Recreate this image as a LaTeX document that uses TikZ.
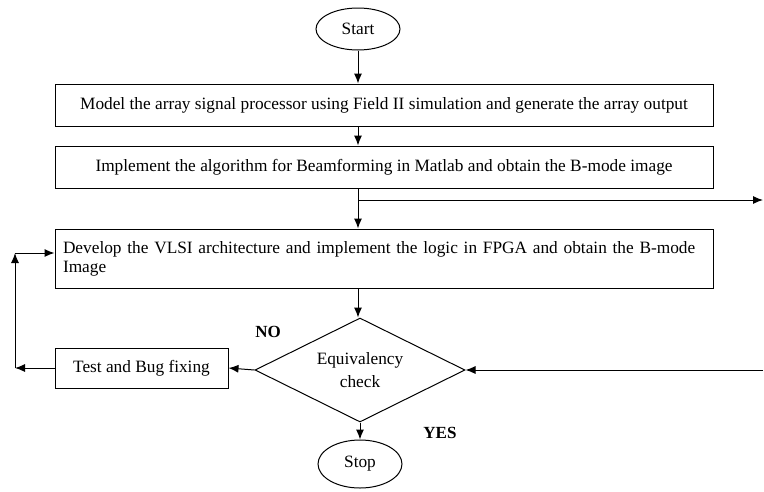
\documentclass[tikz,border=0pt]{standalone}
\usepackage{fontspec}
\setmainfont{Liberation Serif}
\usetikzlibrary{arrows.meta,positioning,shapes.geometric}
\begin{document}
\begin{tikzpicture}[
    x=1pt,y=-1pt,
    line width=1pt,
    >={Latex[length=10pt,width=8pt]},
    box/.style={draw,minimum width=658pt,minimum height=42pt,inner sep=0pt,font=\fontsize{17.3}{19}\selectfont},
    terminal/.style={ellipse,draw,minimum width=84pt,minimum height=42pt,inner sep=0pt,font=\fontsize{17.3}{19}\selectfont},
    decision/.style={diamond,draw,aspect=2,minimum width=210pt,minimum height=104pt,inner sep=0pt,align=center,font=\fontsize{17.3}{23}\selectfont},
    lbl/.style={font=\bfseries\fontsize{17}{19}\selectfont}
]
\useasboundingbox (0,0) rectangle (764,491);
\node[terminal] (start) at (358,29) {Start};
\node[box] (model) at (384,105) {Model the array signal processor using Field II simulation and generate the array output};
\node[box] (beam) at (384,167) {Implement the algorithm for Beamforming in Matlab and obtain the B-mode image};
\node[box,minimum height=59pt,text width=642pt,align=left] (vlsi) at (384,258.5) {Develop the VLSI architecture and implement the logic in FPGA and obtain the B-mode\\Image};
\node[decision] (check) at (360,370) {Equivalency\\check};
\node[box,minimum width=173pt,minimum height=40pt] (test) at (141.5,368) {Test and Bug fixing};
\node[terminal,minimum height=48pt] (stop) at (360,464) {Stop};
\node[lbl] (no) at (268,332) {NO};
\node[lbl] (yes) at (440,433) {YES};
\coordinate (branch) at (358,200);
\coordinate (outR) at (763,200);
\coordinate (inR) at (763,370);
\coordinate (loopB) at (15,368);
\coordinate (loopT) at (15,253);
% main column
\draw[->] (start.south) -- (start.south |- model.north);
\draw[->] (start.south |- model.south) -- (start.south |- beam.north);
\draw (start.south |- beam.south) -- (branch);
\draw[->] (branch) -- (branch |- vlsi.north);
\draw[->] (branch) -- (outR);
\draw[->] (branch |- vlsi.south) -- (branch |- check.north);
\draw[->] (check.south) -- (stop.north);
% side paths
\draw[->] (inR) -- (check.east);
\draw[->] (check.west) -- (test.east);
\draw[->] (test.west) -- (loopB);
\draw[->] (loopB) -- (loopT);
\draw[->] (loopT) -- (loopT -| vlsi.west);
\end{tikzpicture}
\end{document}
